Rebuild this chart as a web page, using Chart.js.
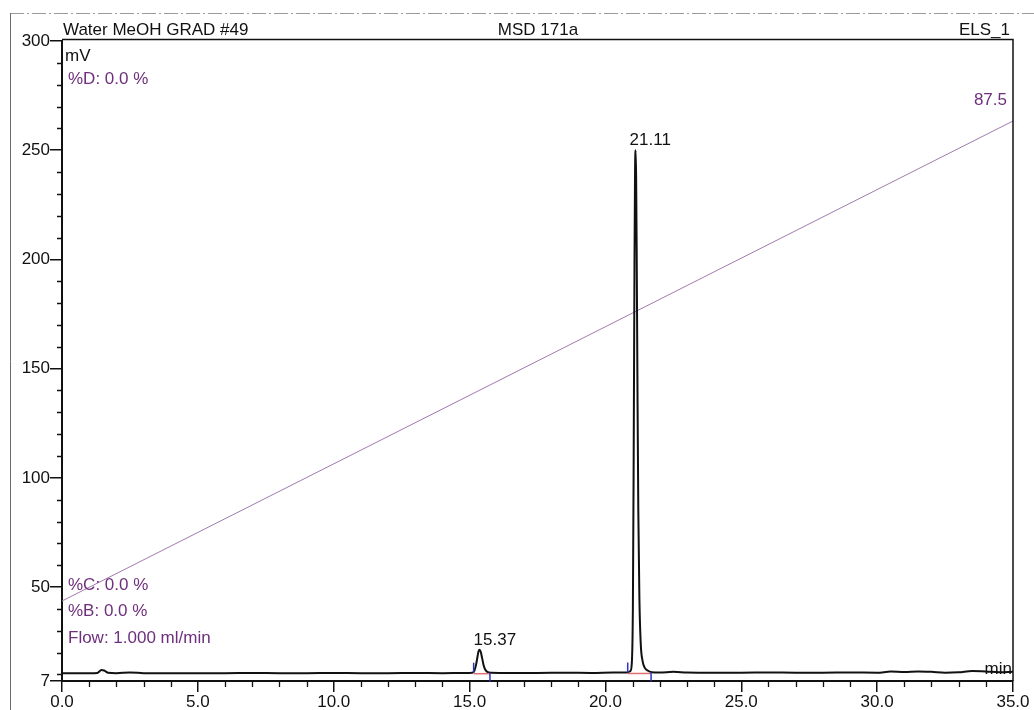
<!DOCTYPE html>
<html>
<head>
<meta charset="utf-8">
<script src="https://cdn.jsdelivr.net/npm/chart.js@4.4.1/dist/chart.umd.min.js"></script>
<style>
  html, body { margin: 0; padding: 0; background: #fff; }
  #wrap { position: relative; width: 1034px; height: 710px; }
  canvas { display: block; }
</style>
</head>
<body>
<div id="wrap"><canvas id="c" width="1034" height="710"></canvas></div>
<script>
// ELS_1 detector trace, retention time (min) vs. signal (mV)
const traceTimes = [0, 0.5, 1.0, 1.3, 1.45, 1.55, 1.7, 2.0, 2.5, 3.0, 4.0, 5.0, 6.0, 7.0, 8.0, 9.0, 10.0, 11.0, 12.0, 13.0, 14.0, 14.8,
  15.10, 15.18, 15.24, 15.29, 15.33, 15.37, 15.41, 15.46, 15.51, 15.57, 15.65, 15.80,
  16.5, 17.5, 18.5, 19.5, 20.3, 20.80, 20.92, 20.97, 21.01, 21.04, 21.07, 21.09, 21.11, 21.13, 21.15, 21.18, 21.21, 21.25, 21.30, 21.37, 21.45, 21.55, 21.70,
  22.0, 22.5, 23.0, 24.0, 25.0, 26.0, 27.0, 28.0, 29.0, 30.0, 30.5, 31.0, 31.5, 32.0, 32.5, 33.0, 33.5, 34.0, 34.5, 35.0];
const traceSignal = [10.6, 10.5, 10.6, 10.7, 12.0, 11.8, 10.8, 10.6, 10.9, 10.6, 10.5, 10.6, 10.6, 10.7, 10.6, 10.6, 10.7, 10.6, 10.6, 10.7, 10.6, 10.7,
  10.8, 11.8, 14.5, 18.0, 20.6, 21.3, 20.4, 17.6, 14.6, 12.4, 11.2, 10.8,
  10.7, 10.7, 10.8, 10.7, 10.9, 10.9, 11.6, 15.0, 40.0, 110.0, 200.0, 240.0, 250.0, 238.0, 205.0, 140.0, 85.0, 45.0, 24.0, 16.0, 13.0, 11.8, 11.0,
  10.9, 11.2, 10.9, 10.8, 10.8, 10.9, 10.8, 10.8, 10.9, 10.8, 11.3, 11.1, 11.4, 11.2, 10.8, 11.0, 11.6, 11.4, 11.0, 11.2];

// Solvent gradient (%D) over the run
const gradTimes = [0, 35];
const gradPercent = [12.5, 87.5];

// Integrated peaks
const peakRT = [15.37, 21.11];
const peakLabels = ['15.37', '21.11'];
const peakHeight = [21.3, 250.0];
const peakStart = [15.15, 20.82];
const peakEnd = [15.75, 21.68];
const peakBase = [10.8, 10.9];

// Axis ticks
const xTicks = [0, 5, 10, 15, 20, 25, 30, 35];
const xTickLabels = ['0.0', '5.0', '10.0', '15.0', '20.0', '25.0', '30.0', '35.0'];
const yTicks = [7, 50, 100, 150, 200, 250, 300];
const yTickLabels = ['7', '50', '100', '150', '200', '250', '300'];

// Method info annotations
const headerLeft = 'Water MeOH GRAD #49';
const headerMid = 'MSD 171a';
const headerRight = 'ELS_1';
const infoTop = ['%D: 0.0 %'];
const infoBottom = ['%C: 0.0 %', '%B: 0.0 %', 'Flow: 1.000 ml/min'];
const gradEndLabel = '87.5';

const FONT = '"Liberation Sans", Arial, Helvetica, sans-serif';
const PURPLE = '#6e2f7c';
const FS = 17;

const decor = {
  id: 'decor',
  beforeDraw(chart) {
    const ctx = chart.ctx;
    ctx.save();
    ctx.fillStyle = '#fff';
    ctx.fillRect(0, 0, chart.width, chart.height);
    // paper edge
    ctx.strokeStyle = '#9a9a9a';
    ctx.lineWidth = 1;
    ctx.setLineDash([14, 3, 2, 3]);
    ctx.beginPath();
    ctx.moveTo(10, 13.5); ctx.lineTo(1034, 13.5);
    ctx.stroke();
    ctx.setLineDash([]);
    ctx.strokeStyle = '#6a6a6a';
    ctx.beginPath();
    ctx.moveTo(10.5, 13); ctx.lineTo(10.5, 710);
    ctx.stroke();
    ctx.restore();
  },
  afterDatasetsDraw(chart) {
    const ctx = chart.ctx;
    const xs = chart.scales.x, ys = chart.scales.y;
    const a = chart.chartArea;
    ctx.save();
    // frame top and right
    ctx.strokeStyle = '#111';
    ctx.lineWidth = 1.5;
    ctx.beginPath();
    ctx.moveTo(a.left, a.top - 1.5); ctx.lineTo(a.right, a.top - 1.5); ctx.lineTo(a.right, a.bottom);
    ctx.stroke();

    // minor ticks
    ctx.lineWidth = 1.3;
    ctx.beginPath();
    for (let v = 10; v < 300; v += 10) {
      if (v % 50 === 0) continue;
      const py = Math.round(ys.getPixelForValue(v)) + 0.5;
      ctx.moveTo(a.left - 5, py); ctx.lineTo(a.left, py);
    }
    for (let t = 1; t < 35; t += 1) {
      if (t % 5 === 0) continue;
      const px = Math.round(xs.getPixelForValue(t)) + 0.5;
      ctx.moveTo(px, a.bottom); ctx.lineTo(px, a.bottom + 6);
    }
    ctx.stroke();

    // integration baselines and delimiters
    for (let i = 0; i < peakRT.length; i++) {
      const x1 = xs.getPixelForValue(peakStart[i]);
      const x2 = xs.getPixelForValue(peakEnd[i]);
      const yb = ys.getPixelForValue(peakBase[i]);
      ctx.strokeStyle = '#e07070';
      ctx.lineWidth = 1.5;
      ctx.beginPath();
      ctx.moveTo(x1, yb + 1); ctx.lineTo(x2, yb + 1);
      ctx.stroke();
      ctx.strokeStyle = '#2a35c8';
      ctx.lineWidth = 1.5;
      ctx.beginPath();
      ctx.moveTo(x1, yb); ctx.lineTo(x1, yb - 10);
      ctx.moveTo(x2, yb); ctx.lineTo(x2, yb + 9);
      ctx.stroke();
    }

    // peak labels
    ctx.fillStyle = '#111';
    ctx.font = FS + 'px ' + FONT;
    ctx.textAlign = 'left';
    ctx.textBaseline = 'bottom';
    for (let i = 0; i < peakRT.length; i++) {
      const px = xs.getPixelForValue(peakRT[i]);
      const py = ys.getPixelForValue(peakHeight[i]);
      ctx.fillText(peakLabels[i], px - 6, py - 1);
    }

    // axis unit labels
    ctx.textBaseline = 'middle';
    ctx.fillText('mV', a.left + 3, a.top + 15);
    ctx.textAlign = 'right';
    ctx.fillText('min', a.right - 1, ys.getPixelForValue(12.5));

    // method info
    ctx.fillStyle = PURPLE;
    ctx.textAlign = 'left';
    infoTop.forEach((s, i) => ctx.fillText(s, a.left + 6, a.top + 38 + i * 26));
    infoBottom.forEach((s, i) => ctx.fillText(s, a.left + 6, a.bottom - 96 + i * 26.5));
    const gy = chart.scales.yGrad;
    ctx.textAlign = 'right';
    ctx.fillText(gradEndLabel, a.right - 6, gy.getPixelForValue(gradPercent[1]) - 21);

    // header
    ctx.fillStyle = '#111';
    ctx.textBaseline = 'alphabetic';
    ctx.textAlign = 'left';
    ctx.fillText(headerLeft, a.left + 1, a.top - 6);
    ctx.textAlign = 'center';
    ctx.fillText(headerMid, 538, a.top - 6);
    ctx.textAlign = 'right';
    ctx.fillText(headerRight, a.right - 3, a.top - 6);
    ctx.restore();
  }
};

const tracePoints = traceTimes.map((t, i) => ({ x: t, y: traceSignal[i] }));
const gradPoints = gradTimes.map((t, i) => ({ x: t, y: gradPercent[i] }));

new Chart(document.getElementById('c'), {
  type: 'line',
  data: {
    datasets: [
      {
        label: 'ELS_1',
        data: tracePoints,
        yAxisID: 'y',
        borderColor: '#111',
        borderWidth: 2,
        pointRadius: 0,
        tension: 0.3,
        cubicInterpolationMode: 'monotone',
        order: 1
      },
      {
        label: '%D',
        data: gradPoints,
        yAxisID: 'yGrad',
        borderColor: '#a17ab0',
        borderWidth: 1,
        pointRadius: 0,
        tension: 0,
        order: 2
      }
    ]
  },
  options: {
    responsive: false,
    animation: false,
    devicePixelRatio: 1,
    layout: { padding: { top: 41, right: 21, left: 0, bottom: 0 } },
    plugins: { legend: { display: false }, tooltip: { enabled: false } },
    scales: {
      x: {
        type: 'linear',
        min: 0, max: 35,
        afterBuildTicks(s) { s.ticks = xTicks.map(v => ({ value: v })); },
        afterFit(s) { s.height = 29; },
        ticks: {
          color: '#111',
          font: { family: FONT, size: FS },
          padding: 0,
          maxRotation: 0,
          autoSkip: false,
          callback(v) { const i = xTicks.indexOf(v); return i >= 0 ? xTickLabels[i] : ''; }
        },
        grid: { drawOnChartArea: false, drawTicks: true, tickLength: 11, color: '#111', lineWidth: 1.5 },
        border: { color: '#111', width: 2 }
      },
      y: {
        type: 'linear',
        min: 7, max: 300,
        afterBuildTicks(s) { s.ticks = yTicks.map(v => ({ value: v })); },
        afterFit(s) { s.width = 62; },
        ticks: {
          color: '#111',
          font: { family: FONT, size: FS },
          padding: 0,
          autoSkip: false,
          callback(v) { const i = yTicks.indexOf(v); return i >= 0 ? yTickLabels[i] : ''; }
        },
        grid: { drawOnChartArea: false, drawTicks: true, tickLength: 12, color: '#111', lineWidth: 1.5 },
        border: { color: '#111', width: 2 }
      },
      yGrad: {
        type: 'linear',
        display: false,
        min: 0, max: 100
      }
    }
  },
  plugins: [decor]
});
</script>
</body>
</html>
